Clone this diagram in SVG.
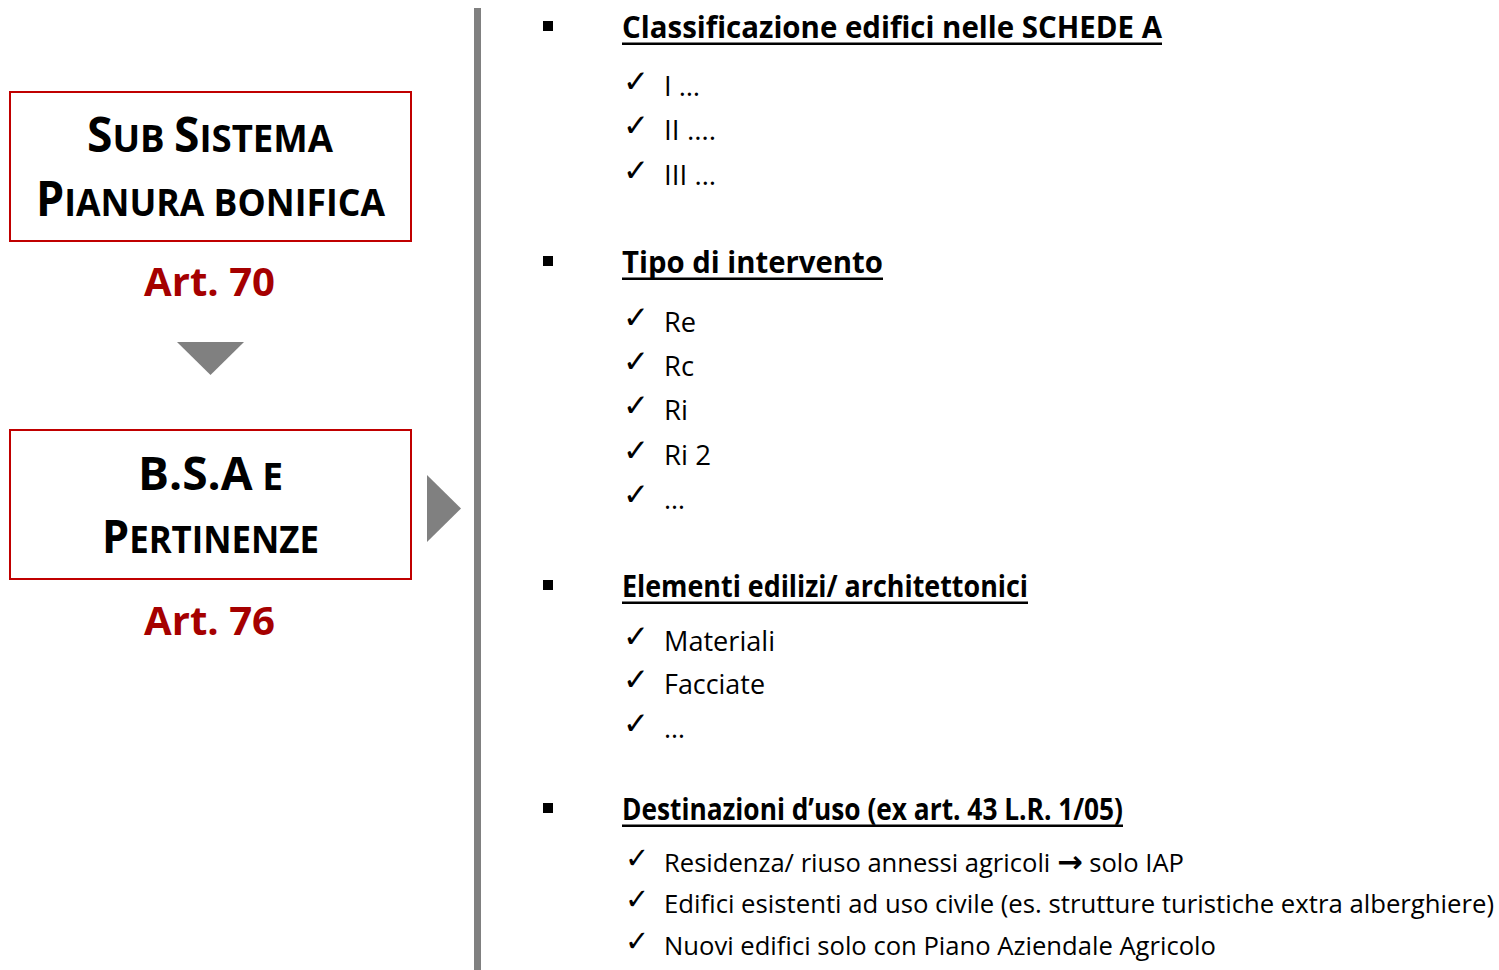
<svg xmlns="http://www.w3.org/2000/svg" width="1499" height="970" viewBox="0 0 1499 970">
<style>
.box{fill:#ffffff;stroke:#c00000;stroke-width:2}
.title{font-family:"Open Sans","Noto Sans",sans-serif;font-weight:bold;fill:#000000}
.art{font-family:"Open Sans","Noto Sans",sans-serif;font-weight:bold;font-size:40px;fill:#a50000}
.tri{fill:#808080}
.head{font-family:"Open Sans","Noto Sans",sans-serif;font-weight:bold;font-size:31px;fill:#000000}
.ul{fill:#000000}
.item{font-family:"Open Sans","Noto Sans",sans-serif;font-size:27px;fill:#000000}
.small{font-family:"Open Sans","Noto Sans",sans-serif;font-size:25px;fill:#000000}
.chk{font-family:"DejaVu Sans",sans-serif;font-weight:bold;font-size:31px;fill:#000000}
.chk2{font-family:"DejaVu Sans",sans-serif;font-size:29px;fill:#000000}
.arr{font-family:"DejaVu Sans",sans-serif;font-weight:bold;font-size:30px}
.bul{fill:#000000}
</style>
<rect x="0" y="0" width="1499" height="970" fill="#ffffff"/>

<g id="node-subsistema">
<rect class="box" x="10" y="92" width="401" height="149"/>
<text class="title" x="87" y="152" textLength="246" lengthAdjust="spacingAndGlyphs"><tspan font-size="48">S</tspan><tspan font-size="38">UB </tspan><tspan font-size="48">S</tspan><tspan font-size="38">ISTEMA</tspan></text>
<text class="title" x="36" y="216" textLength="349" lengthAdjust="spacingAndGlyphs"><tspan font-size="48">P</tspan><tspan font-size="38">IANURA BONIFICA</tspan></text>
</g>
<g id="label-art70">
<text class="art" x="144" y="296" textLength="131" lengthAdjust="spacingAndGlyphs">Art. 70</text>
</g>

<g id="node-bsa">
<rect class="box" x="10" y="430" width="401" height="149"/>
<text class="title" x="138" y="490" textLength="145" lengthAdjust="spacingAndGlyphs"><tspan font-size="46">B.S.A</tspan><tspan font-size="37"> E</tspan></text>
<text class="title" x="102" y="553" textLength="217" lengthAdjust="spacingAndGlyphs"><tspan font-size="46">P</tspan><tspan font-size="37">ERTINENZE</tspan></text>
</g>
<g id="label-art76">
<text class="art" x="144" y="635" textLength="131" lengthAdjust="spacingAndGlyphs">Art. 76</text>
</g>

<g id="connectors">
<polygon class="tri" points="177,342 244,342 210.5,375"/>
<polygon class="tri" points="427,475 461,508.5 427,542"/>
<rect x="474" y="8" width="7" height="962" fill="#808080"/>
</g>

<g id="list-classificazione">
<rect class="bul" x="543" y="21" width="10" height="10"/>
<text class="head" x="622" y="38" textLength="540" lengthAdjust="spacingAndGlyphs">Classificazione edifici nelle SCHEDE A</text>
<rect class="ul" x="622" y="42.5" width="540" height="2.5"/>
<text class="chk" x="623" y="92">✓</text>
<text class="item" x="664" y="96" textLength="36" lengthAdjust="spacingAndGlyphs">I …</text>
<text class="chk" x="623" y="136">✓</text>
<text class="item" x="664" y="140" textLength="52" lengthAdjust="spacingAndGlyphs">II ….</text>
<text class="chk" x="623" y="181">✓</text>
<text class="item" x="664" y="185" textLength="52" lengthAdjust="spacingAndGlyphs">III …</text>
</g>

<g id="list-intervento">
<rect class="bul" x="543" y="256" width="10" height="10"/>
<text class="head" x="622" y="273" textLength="261" lengthAdjust="spacingAndGlyphs">Tipo di intervento</text>
<rect class="ul" x="622" y="277.5" width="261" height="2.5"/>
<text class="chk" x="623" y="328">✓</text>
<text class="item" x="664" y="332" textLength="32" lengthAdjust="spacingAndGlyphs">Re</text>
<text class="chk" x="623" y="372">✓</text>
<text class="item" x="664" y="376" textLength="30" lengthAdjust="spacingAndGlyphs">Rc</text>
<text class="chk" x="623" y="416">✓</text>
<text class="item" x="664" y="420" textLength="24" lengthAdjust="spacingAndGlyphs">Ri</text>
<text class="chk" x="623" y="461">✓</text>
<text class="item" x="664" y="465" textLength="47" lengthAdjust="spacingAndGlyphs">Ri 2</text>
<text class="chk" x="623" y="505">✓</text>
<text class="item" x="664" y="509" textLength="21" lengthAdjust="spacingAndGlyphs">…</text>
</g>

<g id="list-elementi">
<rect class="bul" x="543" y="580" width="10" height="10"/>
<text class="head" x="622" y="597" textLength="406" lengthAdjust="spacingAndGlyphs">Elementi edilizi/ architettonici</text>
<rect class="ul" x="622" y="601.5" width="406" height="2.5"/>
<text class="chk" x="623" y="647">✓</text>
<text class="item" x="664" y="651" textLength="111" lengthAdjust="spacingAndGlyphs">Materiali</text>
<text class="chk" x="623" y="690">✓</text>
<text class="item" x="664" y="694" textLength="101" lengthAdjust="spacingAndGlyphs">Facciate</text>
<text class="chk" x="623" y="734">✓</text>
<text class="item" x="664" y="738" textLength="21" lengthAdjust="spacingAndGlyphs">…</text>
</g>

<g id="list-destinazioni">
<rect class="bul" x="543" y="803" width="10" height="10"/>
<text class="head" x="622" y="820" textLength="501" lengthAdjust="spacingAndGlyphs">Destinazioni d’uso (ex art. 43 L.R. 1/05)</text>
<rect class="ul" x="622" y="824.5" width="501" height="2.5"/>
<text class="chk2" x="625" y="868">✓</text>
<text class="small" x="664" y="872" textLength="520" lengthAdjust="spacingAndGlyphs">Residenza/ riuso annessi agricoli <tspan class="arr">→</tspan> solo IAP</text>
<text class="chk2" x="625" y="909">✓</text>
<text class="small" x="664" y="913" textLength="830" lengthAdjust="spacingAndGlyphs">Edifici esistenti ad uso civile (es. strutture turistiche extra alberghiere)</text>
<text class="chk2" x="625" y="951">✓</text>
<text class="small" x="664" y="955" textLength="552" lengthAdjust="spacingAndGlyphs">Nuovi edifici solo con Piano Aziendale Agricolo</text>
</g>
</svg>
